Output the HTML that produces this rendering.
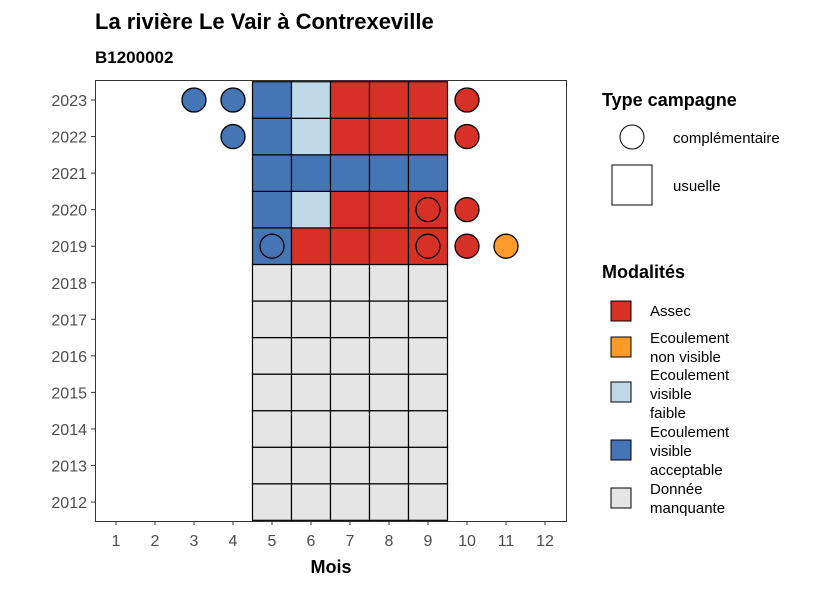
<!DOCTYPE html>
<html><head><meta charset="utf-8"><style>
body{margin:0;background:#fff;font-family:"Liberation Sans",sans-serif}
svg text{font-family:"Liberation Sans",sans-serif}
</style></head><body>
<svg id="chart" width="826" height="590" viewBox="0 0 826 590" xmlns="http://www.w3.org/2000/svg">
<text x="95" y="29" font-size="22" font-weight="bold" fill="#000">La rivière Le Vair à Contrexeville</text>
<text x="95" y="63" font-size="17" font-weight="bold" fill="#000">B1200002</text>
<g id="tiles"></g><g id="pts"></g><g id="axes"></g>
<rect x="95.5" y="80.5" width="471" height="441" fill="none" stroke="#333" stroke-width="1"/>
<text x="331" y="573" font-size="18" font-weight="bold" text-anchor="middle">Mois</text>
<g>
<text x="602" y="106" font-size="18" font-weight="bold">Type campagne</text>
<circle cx="632" cy="137" r="12" fill="#fff" stroke="#000"/>
<text x="673" y="143" font-size="15">complémentaire</text>
<rect x="612" y="165" width="40" height="40" fill="#fff" stroke="#000"/>
<text x="673" y="191" font-size="15">usuelle</text>
</g>
<g>
<text x="602" y="278" font-size="18" font-weight="bold">Modalités</text>
<rect x="611" y="301" width="20" height="20" fill="#d73027" stroke="#000"/>
<text x="650" y="316" font-size="15">Assec</text>
<rect x="611" y="337" width="20" height="20" fill="#fd9a2c" stroke="#000"/>
<text x="650" y="343" font-size="15"><tspan x="650">Ecoulement</tspan><tspan x="650" dy="19">non visible</tspan></text>
<rect x="611" y="382" width="20" height="20" fill="#c0d9e8" stroke="#000"/>
<text x="650" y="380" font-size="15"><tspan x="650">Ecoulement</tspan><tspan x="650" dy="19">visible</tspan><tspan x="650" dy="19">faible</tspan></text>
<rect x="611" y="440" width="20" height="20" fill="#4575b4" stroke="#000"/>
<text x="650" y="437" font-size="15"><tspan x="650">Ecoulement</tspan><tspan x="650" dy="19">visible</tspan><tspan x="650" dy="19">acceptable</tspan></text>
<rect x="611" y="488" width="20" height="20" fill="#e5e5e5" stroke="#000"/>
<text x="650" y="494" font-size="15"><tspan x="650">Donnée</tspan><tspan x="650" dy="19">manquante</tspan></text>
</g>
</svg>
<script>
const months=[1,2,3,4,5,6,7,8,9,10,11,12];
const years=[2012,2013,2014,2015,2016,2017,2018,2019,2020,2021,2022,2023];
const colors={A:"#d73027",N:"#fd9a2c",F:"#c0d9e8",V:"#4575b4",M:"#e5e5e5"};
// usual campaigns: [year, month, modality]
const tileYears=[2012,2013,2014,2015,2016,2017,2018,2019,2020,2021,2022,2023];
const tileVals=[
"MMMMM","MMMMM","MMMMM","MMMMM","MMMMM","MMMMM","MMMMM",
"VAAAA","VFAAA","VVVVV","VFAAA","VFAAA"];
const tileMonths=[5,6,7,8,9];
// complementary campaigns
const ptYears=[2023,2023,2023,2022,2022,2020,2020,2019,2019,2019,2019];
const ptMonths=[3,4,10,4,10,9,10,5,9,10,11];
const ptVals=["V","V","A","V","A","A","A","V","A","A","N"];
const ns="http://www.w3.org/2000/svg";
const x=m=>116+(m-1)*39;
const y=yr=>100+(2023-yr)*36.55;
const tg=document.getElementById('tiles'),pg=document.getElementById('pts'),ag=document.getElementById('axes');
tileYears.forEach((yr,i)=>{tileMonths.forEach((m,j)=>{
 const r=document.createElementNS(ns,'rect');
 r.setAttribute('x',x(m)-19.5);r.setAttribute('y',y(yr)-18.275);
 r.setAttribute('width',39);r.setAttribute('height',36.55);
 r.setAttribute('fill',colors[tileVals[i][j]]);r.setAttribute('stroke','#000');r.setAttribute('stroke-width','1.2');
 
 
 tg.appendChild(r);});});
ptYears.forEach((yr,i)=>{
 const c=document.createElementNS(ns,'circle');
 c.setAttribute('cx',x(ptMonths[i]));c.setAttribute('cy',y(yr));c.setAttribute('r',12);
 c.setAttribute('fill',colors[ptVals[i]]);c.setAttribute('stroke','#000');c.setAttribute('stroke-width','1.3');
 
 
 pg.appendChild(c);});
months.forEach(m=>{
 const l=document.createElementNS(ns,'line');
 l.setAttribute('x1',x(m));l.setAttribute('x2',x(m));l.setAttribute('y1',521);l.setAttribute('y2',525);l.setAttribute('stroke','#333');
 ag.appendChild(l);
 const t=document.createElementNS(ns,'text');
 t.setAttribute('x',x(m));t.setAttribute('y',546);t.setAttribute('font-size',16);t.setAttribute('fill','#4d4d4d');t.setAttribute('text-anchor','middle');
 t.textContent=m;
 
 
 ag.appendChild(t);});
years.forEach(yr=>{
 const l=document.createElementNS(ns,'line');
 l.setAttribute('x1',91);l.setAttribute('x2',95);l.setAttribute('y1',y(yr));l.setAttribute('y2',y(yr));l.setAttribute('stroke','#333');
 ag.appendChild(l);
 const t=document.createElementNS(ns,'text');
 t.setAttribute('x',87);t.setAttribute('y',y(yr)+6);t.setAttribute('font-size',16);t.setAttribute('fill','#4d4d4d');t.setAttribute('text-anchor','end');
 t.textContent=yr;
 
 
 ag.appendChild(t);});
</script>
</body></html>
